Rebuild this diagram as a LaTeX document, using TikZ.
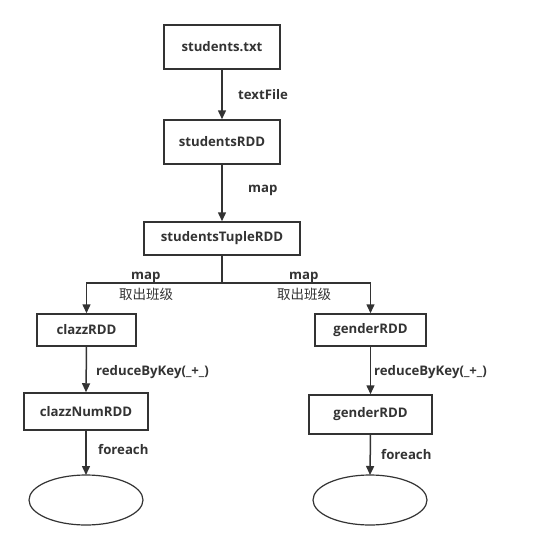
\documentclass[tikz,border=0pt]{standalone}
\usepackage{fontspec}
\setmainfont{Open Sans}
\newfontfamily\cjk{Noto Sans CJK SC}
\usetikzlibrary{arrows.meta}
\definecolor{ln}{HTML}{333333}
\begin{document}
\begin{tikzpicture}[x=1pt,y=-1pt,
  box/.style={draw=ln,line width=1.5pt,fill=white,inner sep=0pt,font=\bfseries\fontsize{13.2}{15}\selectfont,text=ln},
  conn/.style={draw=ln,line width=1.5pt,-{Triangle[length=9pt,width=8pt]}},
  lab/.style={font=\bfseries\fontsize{13.2}{15}\selectfont,text=ln,inner sep=0pt,anchor=west},
  clab/.style={font=\cjk\fontsize{13.5}{15}\selectfont,text=ln,inner sep=0pt}]
\useasboundingbox (0,0) rectangle (540,550);
\node[box,minimum width=116pt,minimum height=44pt] (st) at (222,47) {students.txt};
\node[box,minimum width=116pt,minimum height=44pt] (sr) at (222,142) {studentsRDD};
\node[box,minimum width=156pt,minimum height=33pt] (stu) at (222,238.5) {studentsTupleRDD};
\node[box,minimum width=99pt,minimum height=32pt] (cr) at (86.5,330) {clazzRDD};
\node[box,minimum width=124pt,minimum height=37pt] (cn) at (86,411.5) {clazzNumRDD};
\node[box,minimum width=111pt,minimum height=32pt] (gr) at (370.5,330) {genderRDD};
\node[box,minimum width=123pt,minimum height=39pt] (gr2) at (370.5,414.5) {genderRDD};
\draw[ln,line width=1.2pt] (86,500) ellipse [x radius=57pt,y radius=25pt];
\coordinate (e1) at (86,475);
\draw[ln,line width=1.2pt] (370,500) ellipse [x radius=57pt,y radius=25pt];
\coordinate (e2) at (370,475);
\coordinate (br) at (222,283);
\coordinate (bl) at (86.5,283);
\coordinate (brr) at (370.5,283);
\draw[conn] (st.south) -- (sr.north);
\draw[conn] (sr.south) -- (stu.north);
\draw[draw=ln,line width=1.5pt] (stu.south) -- (br);
\draw[conn] (br) -- (bl) -- (cr.north);
\draw[conn] (br) -- (brr) -- (gr.north);
\draw[conn] (cr.south) -- (cn.north);
\draw[conn] (gr.south) -- (gr2.north);
\draw[conn] (cn.south) -- (e1);
\draw[conn] (gr2.south) -- (e2);
\node[lab] (l1) at (238,95) {textFile};
\node[lab] (l2) at (248,190) {map};
\node[lab] (l3) at (131,277) {map};
\node[clab] (l4) at (146,294) {取出班级};
\node[lab] (l5) at (289,277) {map};
\node[clab] (l6) at (304,294) {取出班级};
\node[lab] (l7) at (96,372) {reduceByKey(\_+\_)};
\node[lab] (l8) at (374,372) {reduceByKey(\_+\_)};
\node[lab] (l9) at (98,450) {foreach};
\node[lab] (l10) at (381,455) {foreach};
\end{tikzpicture}
\end{document}
